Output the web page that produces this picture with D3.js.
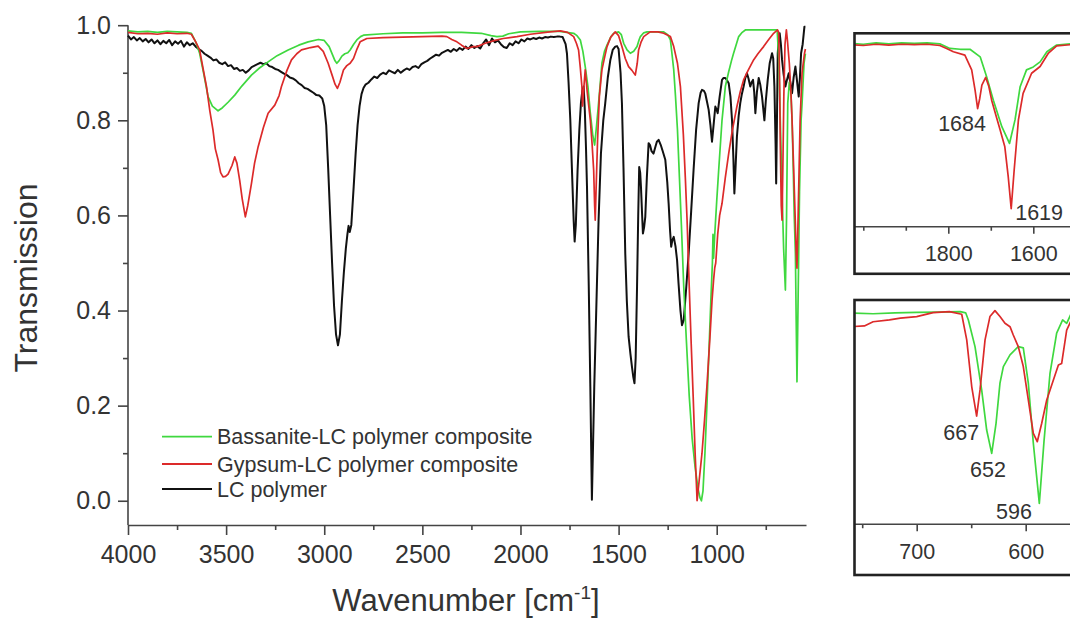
<!DOCTYPE html>
<html>
<head>
<meta charset="utf-8">
<script src="https://cdn.jsdelivr.net/npm/d3@7"></script>
<style>
html,body{margin:0;padding:0;background:#fff;}
svg{display:block;}
text{font-family:"Liberation Sans",Arial,sans-serif;fill:#333;}
</style>
</head>
<body>
<svg id="chart" width="1070" height="618"></svg>
<script>
// ---------------- DATA ----------------
const seriesNames = ["Bassanite-LC polymer composite", "Gypsum-LC polymer composite", "LC polymer"];
const seriesColors = ["#3fd83f", "#dc2a2a", "#111111"];

const yTicksMajor = [0, 0.2, 0.4, 0.6, 0.8, 1.0];
const yTicksMinor = [0.1, 0.3, 0.5, 0.7, 0.9];
const xTicksMajor = [4000, 3500, 3000, 2500, 2000, 1500, 1000];
const xTicksMinor = [3750, 3250, 2750, 2250, 1750, 1250, 750];

// [wavenumber, transmission]
const bassanite = [
[4000,0.988],[3950,0.986],[3900,0.987],[3850,0.985],[3800,0.987],[3750,0.986],[3700,0.985],[3677,0.983],[3655,0.965],[3635,0.941],[3615,0.90],[3592,0.85],[3570,0.83],[3541,0.82],[3520,0.826],[3490,0.838],[3456,0.853],[3420,0.872],[3371,0.895],[3330,0.91],[3286,0.923],[3240,0.936],[3184,0.948],[3130,0.958],[3082,0.965],[3030,0.970],[3000,0.968],[2975,0.955],[2955,0.935],[2945,0.925],[2936,0.92],[2925,0.925],[2910,0.935],[2895,0.94],[2880,0.942],[2868,0.948],[2850,0.96],[2834,0.969],[2815,0.976],[2800,0.979],[2700,0.982],[2600,0.984],[2500,0.984],[2400,0.985],[2300,0.985],[2200,0.983],[2150,0.978],[2120,0.976],[2090,0.977],[2060,0.982],[2000,0.986],[1900,0.987],[1800,0.987],[1729,0.983],[1712,0.978],[1695,0.969],[1682,0.945],[1670,0.913],[1656,0.87],[1644,0.815],[1632,0.77],[1622,0.748],[1612,0.79],[1602,0.836],[1593,0.88],[1585,0.92],[1572,0.945],[1559,0.958],[1540,0.975],[1525,0.983],[1500,0.986],[1486,0.98],[1474,0.962],[1457,0.948],[1440,0.941],[1423,0.945],[1406,0.955],[1395,0.97],[1389,0.976],[1372,0.984],[1355,0.986],[1300,0.986],[1270,0.986],[1250,0.98],[1236,0.969],[1228,0.94],[1219,0.906],[1210,0.85],[1200,0.78],[1190,0.68],[1180,0.58],[1168,0.45],[1155,0.34],[1140,0.22],[1125,0.13],[1110,0.07],[1095,0.025],[1085,0.006],[1078,0.0],[1070,0.02],[1060,0.1],[1050,0.2],[1040,0.31],[1030,0.42],[1022,0.50],[1019,0.56],[1016,0.51],[1010,0.56],[1000,0.63],[990,0.695],[973,0.80],[956,0.871],[939,0.902],[925,0.925],[914,0.941],[900,0.96],[888,0.976],[870,0.985],[854,0.99],[800,0.99],[750,0.99],[692,0.99],[684,0.93],[676,0.80],[667,0.65],[659,0.53],[650,0.443],[644,0.6],[638,0.836],[630,0.88],[622,0.86],[616,0.80],[610,0.70],[605,0.60],[599,0.52],[595,0.38],[591,0.25],[586,0.40],[578,0.65],[570,0.80],[565,0.836],[555,0.92],[548,0.94]
];

const gypsum = [
[4000,0.985],[3950,0.982],[3900,0.983],[3850,0.981],[3800,0.984],[3750,0.982],[3700,0.983],[3677,0.981],[3655,0.965],[3635,0.948],[3618,0.91],[3600,0.871],[3583,0.82],[3567,0.78],[3555,0.74],[3541,0.717],[3528,0.69],[3516,0.681],[3503,0.682],[3490,0.687],[3470,0.705],[3456,0.723],[3445,0.71],[3431,0.674],[3418,0.635],[3402,0.597],[3390,0.62],[3371,0.667],[3355,0.71],[3337,0.744],[3310,0.785],[3286,0.815],[3252,0.832],[3230,0.852],[3218,0.871],[3190,0.905],[3167,0.927],[3140,0.94],[3116,0.948],[3070,0.953],[3031,0.956],[3005,0.945],[2980,0.92],[2960,0.895],[2945,0.876],[2933,0.867],[2920,0.88],[2902,0.906],[2885,0.915],[2868,0.92],[2851,0.93],[2835,0.948],[2817,0.965],[2783,0.972],[2700,0.974],[2600,0.975],[2500,0.976],[2400,0.977],[2375,0.976],[2350,0.97],[2324,0.965],[2300,0.958],[2273,0.951],[2240,0.955],[2222,0.955],[2180,0.962],[2130,0.968],[2088,0.972],[2018,0.976],[1950,0.981],[1850,0.986],[1797,0.988],[1760,0.985],[1729,0.976],[1715,0.962],[1704,0.948],[1695,0.91],[1687,0.871],[1684,0.83],[1680,0.85],[1675,0.88],[1670,0.906],[1660,0.86],[1644,0.80],[1635,0.75],[1627,0.695],[1622,0.62],[1619,0.59],[1615,0.65],[1607,0.76],[1598,0.85],[1585,0.906],[1570,0.935],[1559,0.955],[1540,0.975],[1517,0.986],[1500,0.978],[1483,0.955],[1466,0.93],[1449,0.913],[1432,0.905],[1415,0.895],[1405,0.92],[1398,0.948],[1385,0.965],[1372,0.976],[1339,0.986],[1300,0.986],[1270,0.983],[1236,0.976],[1219,0.955],[1200,0.92],[1185,0.871],[1170,0.77],[1160,0.68],[1151,0.59],[1140,0.45],[1130,0.33],[1120,0.22],[1110,0.10],[1104,0.04],[1100,0.0],[1090,0.04],[1075,0.10],[1062,0.17],[1050,0.24],[1035,0.34],[1024,0.42],[1016,0.464],[1010,0.49],[1005,0.50],[995,0.56],[985,0.60],[973,0.625],[956,0.68],[939,0.73],[920,0.78],[897,0.829],[880,0.86],[863,0.885],[840,0.905],[812,0.927],[790,0.94],[761,0.955],[735,0.97],[710,0.983],[690,0.99],[684,0.985],[680,0.90],[676,0.75],[671,0.62],[667,0.59],[663,0.70],[658,0.85],[652,0.96],[645,0.99],[640,0.97],[630,0.92],[622,0.86],[616,0.80],[608,0.70],[599,0.58],[595,0.52],[591,0.489],[585,0.60],[575,0.80],[565,0.90],[553,0.94],[548,0.95]
];

const lcPolymer = [
[4000,0.978],[3985,0.970],[3970,0.975],[3955,0.968],[3940,0.973],[3925,0.966],[3910,0.971],[3895,0.964],[3880,0.970],[3865,0.962],[3850,0.968],[3835,0.960],[3820,0.967],[3805,0.962],[3790,0.969],[3775,0.958],[3760,0.966],[3745,0.961],[3730,0.967],[3715,0.955],[3700,0.964],[3685,0.958],[3670,0.962],[3655,0.955],[3640,0.950],[3625,0.946],[3610,0.940],[3595,0.936],[3580,0.932],[3565,0.926],[3550,0.928],[3535,0.921],[3520,0.918],[3505,0.922],[3490,0.914],[3475,0.916],[3460,0.908],[3445,0.910],[3430,0.904],[3415,0.906],[3400,0.900],[3385,0.905],[3370,0.912],[3355,0.915],[3340,0.918],[3325,0.921],[3310,0.918],[3295,0.920],[3280,0.914],[3265,0.912],[3250,0.908],[3235,0.906],[3220,0.902],[3205,0.898],[3190,0.895],[3175,0.890],[3160,0.888],[3145,0.884],[3130,0.878],[3115,0.874],[3100,0.868],[3085,0.866],[3070,0.862],[3055,0.858],[3040,0.853],[3025,0.852],[3010,0.846],[3000,0.830],[2990,0.79],[2980,0.70],[2970,0.60],[2960,0.50],[2950,0.41],[2940,0.35],[2930,0.327],[2920,0.35],[2910,0.42],[2900,0.48],[2890,0.53],[2882,0.56],[2876,0.578],[2870,0.565],[2862,0.58],[2850,0.66],[2840,0.73],[2830,0.79],[2820,0.83],[2810,0.855],[2800,0.868],[2790,0.875],[2775,0.879],[2760,0.886],[2745,0.892],[2730,0.889],[2715,0.896],[2700,0.900],[2685,0.897],[2670,0.905],[2655,0.902],[2640,0.899],[2625,0.906],[2610,0.900],[2595,0.905],[2580,0.909],[2565,0.906],[2550,0.912],[2535,0.914],[2520,0.910],[2505,0.918],[2490,0.922],[2475,0.925],[2460,0.930],[2445,0.934],[2430,0.938],[2415,0.936],[2400,0.942],[2385,0.945],[2370,0.948],[2355,0.944],[2340,0.950],[2325,0.946],[2310,0.952],[2295,0.948],[2280,0.955],[2265,0.950],[2250,0.958],[2235,0.952],[2220,0.956],[2205,0.951],[2190,0.962],[2175,0.970],[2160,0.958],[2145,0.972],[2130,0.964],[2115,0.968],[2100,0.960],[2085,0.954],[2070,0.952],[2055,0.962],[2040,0.958],[2025,0.966],[2010,0.962],[1995,0.970],[1980,0.966],[1965,0.972],[1950,0.970],[1935,0.973],[1920,0.971],[1905,0.974],[1890,0.972],[1875,0.975],[1860,0.974],[1845,0.976],[1830,0.975],[1815,0.976],[1800,0.976],[1785,0.975],[1770,0.96],[1763,0.94],[1755,0.88],[1746,0.80],[1738,0.70],[1729,0.59],[1724,0.545],[1718,0.58],[1709,0.695],[1700,0.78],[1692,0.836],[1685,0.862],[1678,0.871],[1672,0.82],[1666,0.74],[1661,0.66],[1652,0.45],[1644,0.24],[1636,0.002],[1630,0.12],[1624,0.24],[1612,0.43],[1602,0.59],[1590,0.73],[1578,0.80],[1568,0.836],[1555,0.89],[1542,0.927],[1530,0.948],[1517,0.955],[1508,0.956],[1500,0.95],[1490,0.90],[1483,0.836],[1475,0.70],[1466,0.52],[1458,0.42],[1449,0.345],[1440,0.31],[1432,0.282],[1425,0.26],[1419,0.247],[1413,0.30],[1406,0.45],[1400,0.60],[1395,0.702],[1390,0.69],[1386,0.66],[1380,0.60],[1376,0.562],[1370,0.575],[1364,0.597],[1356,0.68],[1347,0.752],[1340,0.748],[1332,0.735],[1322,0.73],[1312,0.745],[1305,0.755],[1296,0.759],[1285,0.748],[1275,0.735],[1262,0.717],[1252,0.67],[1245,0.625],[1238,0.57],[1232,0.534],[1226,0.548],[1219,0.555],[1210,0.535],[1202,0.506],[1195,0.46],[1185,0.401],[1177,0.369],[1168,0.38],[1155,0.45],[1143,0.52],[1130,0.61],[1118,0.695],[1105,0.78],[1092,0.836],[1082,0.858],[1075,0.864],[1065,0.862],[1058,0.856],[1050,0.84],[1041,0.822],[1032,0.79],[1024,0.755],[1016,0.79],[1007,0.829],[1000,0.822],[995,0.815],[985,0.85],[973,0.885],[965,0.889],[956,0.889],[947,0.884],[939,0.878],[930,0.85],[922,0.80],[915,0.72],[910,0.646],[903,0.71],[897,0.766],[888,0.81],[880,0.836],[872,0.855],[863,0.871],[855,0.888],[846,0.899],[838,0.888],[829,0.871],[822,0.88],[815,0.885],[809,0.86],[803,0.815],[795,0.86],[786,0.889],[778,0.875],[769,0.85],[763,0.825],[757,0.80],[750,0.84],[740,0.885],[730,0.92],[718,0.941],[712,0.93],[706,0.871],[700,0.75],[697,0.667],[693,0.80],[689,0.941],[684,0.97],[679,0.983],[673,0.96],[667,0.927],[660,0.90],[650,0.871],[642,0.885],[633,0.899],[625,0.88],[616,0.857],[608,0.89],[599,0.913],[590,0.88],[582,0.85],[576,0.89],[570,0.941],[562,0.96],[553,0.997],[548,0.997]
];

// Inset 1 (carbonyl / water bending region), as drawn on the inset's own axis
const inset1Ticks = [1800, 1600];
const inset1Minor = [2000, 1900, 1700, 1500];
const inset1Bassanite = [[2030,0.981],[2000,0.979],[1970,0.982],[1940,0.980],[1910,0.982],[1880,0.981],[1850,0.982],[1820,0.980],[1796,0.969],[1772,0.967],[1749,0.967],[1725,0.949],[1710,0.902],[1694,0.846],[1674,0.783],[1656,0.743],[1643,0.799],[1631,0.878],[1616,0.918],[1600,0.925],[1584,0.937],[1568,0.961],[1545,0.977],[1500,0.981]];
const inset1Gypsum = [[2030,0.978],[2000,0.976],[1970,0.979],[1940,0.977],[1910,0.979],[1880,0.978],[1850,0.979],[1820,0.976],[1804,0.969],[1788,0.961],[1761,0.953],[1745,0.918],[1737,0.87],[1731,0.826],[1726,0.85],[1721,0.882],[1712,0.900],[1705,0.88],[1698,0.846],[1688,0.81],[1678,0.775],[1667,0.735],[1659,0.664],[1652,0.588],[1645,0.680],[1635,0.799],[1624,0.862],[1604,0.910],[1584,0.926],[1565,0.957],[1545,0.975],[1500,0.979]];
const inset1Labels = [{text:"1684", w:1731, t:0.826}, {text:"1619", w:1652, t:0.588}];

// Inset 2 (sulfate bending region)
const inset2Ticks = [700, 600];
const inset2Minor = [750, 650, 550];
const inset2Bassanite = [[760,0.985],[740,0.982],[720,0.985],[700,0.987],[680,0.988],[660,0.99],[655,0.985],[652.6,0.958],[646.5,0.855],[640.4,0.688],[635.8,0.533],[631.2,0.443],[627.2,0.559],[623.6,0.714],[620.5,0.778],[614.4,0.823],[606.8,0.855],[602.2,0.85],[597.6,0.714],[593,0.482],[587.5,0.25],[583.2,0.49],[577.7,0.752],[571.6,0.907],[566.1,0.958],[562.4,0.945],[558,0.985]];
const inset2Gypsum = [[760,0.932],[748,0.935],[740,0.951],[725,0.958],[715,0.965],[700,0.971],[685,0.986],[670,0.99],[658.7,0.98],[654.1,0.881],[649.5,0.70],[645,0.587],[641.9,0.688],[637.3,0.881],[632.8,0.971],[628.2,0.994],[623.6,0.971],[619,0.945],[614.4,0.932],[611.4,0.90],[606.8,0.855],[602.2,0.778],[597.6,0.649],[593,0.52],[589.4,0.488],[585.3,0.559],[580.7,0.649],[574.6,0.726],[570,0.784],[567,0.79],[562.4,0.919],[558,0.958]];
const inset2Labels = [{text:"667", w:645, t:0.587}, {text:"652", w:631.2, t:0.443}, {text:"596", w:587.5, t:0.25}];

// ---------------- DRAW ----------------
const svg = d3.select("#chart");
const axisColor = "#444";

const x = d3.scaleLinear().domain([4000, 545]).range([128, 806]);
const y = d3.scaleLinear().domain([-0.051, 1.0]).range([525, 25.2]);

function styleAxis(g, fontSize) {
  g.select(".domain").attr("stroke", axisColor).attr("stroke-width", 1.6);
  g.selectAll(".tick line").attr("stroke", axisColor).attr("stroke-width", 1.6);
  g.selectAll(".tick text").attr("fill", "#333").style("font-size", fontSize + "px")
    .style("font-family", "'Liberation Sans', Arial, sans-serif");
  g.attr("font-family", null).attr("font-size", null);
}

// main axes
const gy = svg.append("g").attr("transform", "translate(128,0)")
  .call(d3.axisLeft(y).tickValues(yTicksMajor).tickFormat(d3.format(".1f")).tickSize(10).tickSizeOuter(0).tickPadding(7));
styleAxis(gy, 25);
gy.select(".domain").attr("d", `M0,${y(-0.051)}V${y(1.0)}`);
const gym = svg.append("g").attr("transform", "translate(128,0)")
  .call(d3.axisLeft(y).tickValues(yTicksMinor).tickFormat("").tickSize(5).tickSizeOuter(0));
styleAxis(gym, 25);
gym.select(".domain").remove();

const gx = svg.append("g").attr("transform", "translate(0,525)")
  .call(d3.axisBottom(x).tickValues(xTicksMajor).tickFormat(d3.format("d")).tickSize(10).tickSizeOuter(0).tickPadding(10));
styleAxis(gx, 25);
const gxm = svg.append("g").attr("transform", "translate(0,525)")
  .call(d3.axisBottom(x).tickValues(xTicksMinor).tickFormat("").tickSize(5).tickSizeOuter(0));
styleAxis(gxm, 25);
gxm.select(".domain").remove();

// axis titles
svg.append("text").attr("transform", "translate(37,278) rotate(-90)")
  .attr("text-anchor", "middle").style("font-size", "32px").text("Transmission");
const xt = svg.append("text").attr("x", 466).attr("y", 611).attr("text-anchor", "middle").style("font-size", "31px");
xt.append("tspan").text("Wavenumber [cm");
xt.append("tspan").attr("dy", -12).style("font-size", "19px").text("-1");
xt.append("tspan").attr("dy", 12).text("]");

// main lines
const line = d3.line().x(d => x(d[0])).y(d => y(d[1]));
const mainData = [bassanite, gypsum, lcPolymer];
const drawOrder = [2, 0, 1];
drawOrder.forEach(i => {
  svg.append("path").datum(mainData[i]).attr("fill", "none")
    .attr("stroke", seriesColors[i]).attr("stroke-width", i === 2 ? 2 : 1.7)
    .attr("stroke-linejoin", "round").attr("d", line);
});

// legend
const legY = [436.7, 464, 489];
seriesNames.forEach((name, i) => {
  svg.append("line").attr("x1", 162).attr("x2", 212).attr("y1", legY[i]).attr("y2", legY[i])
    .attr("stroke", seriesColors[i]).attr("stroke-width", 1.8);
  svg.append("text").attr("x", 217).attr("y", legY[i]).attr("dy", "0.36em")
    .style("font-size", "21.5px").text(name);
});

// insets
function drawInset(cfg) {
  const id = "clip" + cfg.id;
  svg.append("clipPath").attr("id", id).append("rect")
    .attr("x", cfg.frame[0]).attr("y", cfg.frame[1]).attr("width", cfg.frame[2]).attr("height", cfg.frame[3]);
  const g = svg.append("g").attr("clip-path", `url(#${id})`);
  const xi = d3.scaleLinear().domain(cfg.xDom).range(cfg.xRange);
  const yi = d3.scaleLinear().domain(cfg.yDom).range(cfg.yRange);
  const ax = g.append("g").attr("transform", `translate(0,${cfg.yRange[0]})`)
    .call(d3.axisBottom(xi).tickValues(cfg.ticks).tickFormat(d3.format("d")).tickSize(7).tickSizeOuter(0).tickPadding(12));
  styleAxis(ax, 21.5);
  ax.select(".domain").attr("d", `M${cfg.frame[0]},0H${cfg.frame[0] + cfg.frame[2]}`);
  const axm = g.append("g").attr("transform", `translate(0,${cfg.yRange[0]})`)
    .call(d3.axisBottom(xi).tickValues(cfg.minor).tickFormat("").tickSize(4).tickSizeOuter(0));
  styleAxis(axm, 21.5);
  axm.select(".domain").remove();
  const li = d3.line().x(d => xi(d[0])).y(d => yi(d[1]));
  [[cfg.b, 0], [cfg.g, 1]].forEach(([data, i]) => {
    g.append("path").datum(data).attr("fill", "none")
      .attr("stroke", seriesColors[i]).attr("stroke-width", 1.7).attr("stroke-linejoin", "round").attr("d", li);
  });
  cfg.labels.forEach((lb, k) => {
    g.append("text").attr("x", xi(lb.w) + cfg.labelOff[k][0]).attr("y", yi(lb.t) + cfg.labelOff[k][1])
      .style("font-size", "21.5px").text(lb.text);
  });
  svg.append("rect").attr("x", cfg.frame[0]).attr("y", cfg.frame[1]).attr("width", cfg.frame[2]).attr("height", cfg.frame[3])
    .attr("fill", "none").attr("stroke", "#222").attr("stroke-width", 2.6);
}

drawInset({
  id: 1, xDom: [1800, 1600], xRange: [948.3, 1033.3], yDom: [0.545, 1.005], yRange: [226.7, 33.3],
  frame: [854.5, 33.3, 240, 240.5], ticks: inset1Ticks, minor: inset1Minor,
  b: inset1Bassanite, g: inset1Gypsum, labels: inset1Labels,
  labelOff: [[-39.5, 22.7], [4, 11.7]]
});
drawInset({
  id: 2, xDom: [700, 600], xRange: [916.7, 1025.7], yDom: [0.169, 1.035], yRange: [524.3, 300],
  frame: [854.5, 300, 240, 275], ticks: inset2Ticks, minor: inset2Minor,
  b: inset2Bassanite, g: inset2Gypsum, labels: inset2Labels,
  labelOff: [[-33.4, 24], [-21.7, 24], [-43.3, 16]]
});
</script>
</body>
</html>
